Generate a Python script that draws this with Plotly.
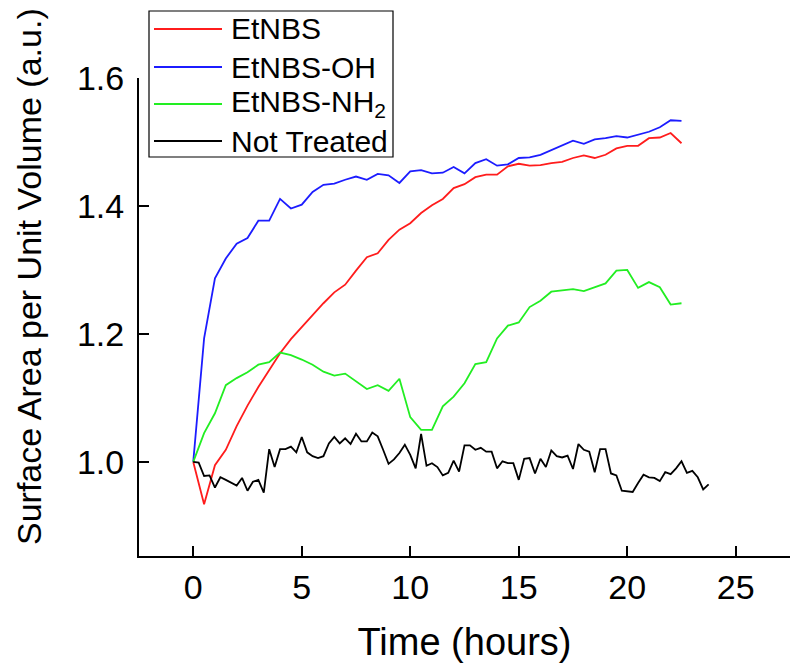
import plotly.graph_objects as go

# ---- data ----
t_treated = [i * 0.5 for i in range(46)]          # 0 .. 22.5 h
t_control = [i * 0.25 for i in range(96)]         # 0 .. 23.75 h

etnbs = [1.000, 0.934, 0.995, 1.019, 1.056, 1.088, 1.117, 1.144, 1.170, 1.192,
         1.211, 1.230, 1.248, 1.265, 1.277, 1.299, 1.320, 1.326, 1.347, 1.363,
         1.373, 1.389, 1.401, 1.411, 1.428, 1.434, 1.445, 1.449, 1.449, 1.462,
         1.466, 1.463, 1.464, 1.467, 1.469, 1.475, 1.479, 1.475, 1.480, 1.490,
         1.494, 1.494, 1.506, 1.507, 1.514, 1.498]

etnbs_oh = [1.000, 1.193, 1.287, 1.318, 1.341, 1.350, 1.377, 1.377, 1.411, 1.396,
            1.402, 1.422, 1.433, 1.435, 1.441, 1.446, 1.441, 1.450, 1.448, 1.436,
            1.454, 1.456, 1.451, 1.452, 1.461, 1.451, 1.467, 1.473, 1.463, 1.465,
            1.475, 1.476, 1.480, 1.487, 1.494, 1.502, 1.497, 1.504, 1.506, 1.509,
            1.507, 1.511, 1.516, 1.523, 1.534, 1.533]

etnbs_nh2 = [1.000, 1.045, 1.076, 1.120, 1.131, 1.140, 1.152, 1.156, 1.171, 1.167,
             1.160, 1.152, 1.141, 1.135, 1.138, 1.126, 1.114, 1.120, 1.111, 1.130,
             1.070, 1.050, 1.050, 1.087, 1.102, 1.123, 1.153, 1.156, 1.193, 1.213,
             1.218, 1.242, 1.252, 1.266, 1.268, 1.270, 1.267, 1.273, 1.279, 1.299,
             1.300, 1.272, 1.281, 1.273, 1.246, 1.248]

not_treated = [1.000, 0.999, 0.978, 0.979, 0.960, 0.976, 0.972, 0.967, 0.963, 0.975,
               0.955, 0.969, 0.972, 0.952, 1.020, 0.992, 1.020, 1.020, 1.024, 1.015,
               1.039, 1.015, 1.009, 1.006, 1.009, 1.029, 1.039, 1.029, 1.037, 1.028,
               1.044, 1.032, 1.032, 1.046, 1.040, 1.019, 0.997, 1.004, 1.014, 1.027,
               1.011, 0.990, 1.044, 0.994, 0.998, 0.992, 0.979, 0.983, 1.002, 0.985,
               1.026, 1.026, 1.019, 1.022, 1.016, 1.016, 0.990, 1.001, 0.998, 0.998,
               0.972, 1.005, 1.006, 0.982, 1.005, 0.992, 1.018, 1.009, 1.007, 1.010,
               0.989, 1.028, 1.019, 1.016, 0.984, 1.020, 1.020, 0.982, 0.979, 0.955,
               0.954, 0.953, 0.967, 0.980, 0.976, 0.975, 0.970, 0.984, 0.981, 0.990,
               1.001, 0.983, 0.986, 0.976, 0.957, 0.965]

series_names = ["EtNBS", "EtNBS-OH", "EtNBS-NH<sub>2</sub>", "Not Treated"]
series_colors = ["#ff1c1c", "#1c1cff", "#22ee22", "#000000"]

x_ticks = [0, 5, 10, 15, 20, 25]
y_ticks = [1.0, 1.2, 1.4, 1.6]

FONT = "Liberation Sans, Arial, sans-serif"

fig = go.Figure()
data = [(t_treated, etnbs), (t_treated, etnbs_oh), (t_treated, etnbs_nh2), (t_control, not_treated)]
for (x, y), name, col in zip(data, series_names, series_colors):
    fig.add_trace(go.Scatter(x=x, y=y, mode="lines", name=name,
                             line=dict(color=col, width=1.8), showlegend=False))

# page body has an 8px default margin; compensate so the plot lands where the reference has it
OFF = 8
L, R, T, B = 139, 790, 78, 556          # target plot box in screen pixels
W, H = R - L, B - T
def px(xp): return (xp - L) / W
def py(yp): return (B - yp) / H

shapes = [dict(type="rect", xref="paper", yref="paper",
               x0=px(149), x1=px(393), y0=py(157), y1=py(11),
               line=dict(color="black", width=1.2), fillcolor="white", layer="above")]
annotations = []
legend_y = [29, 67, 104, 141]
for name, col, yy in zip(series_names, series_colors, legend_y):
    shapes.append(dict(type="line", xref="paper", yref="paper",
                       x0=px(154), x1=px(222), y0=py(yy), y1=py(yy),
                       line=dict(color=col, width=1.8), layer="above"))
    annotations.append(dict(xref="paper", yref="paper", x=px(229), y=py(yy),
                            text=name, showarrow=False, xanchor="left", yanchor="middle",
                            font=dict(family=FONT, size=30, color="black")))

# y-axis title
annotations.append(dict(xref="paper", yref="paper", x=px(29), y=py(277),
                        text="Surface Area per Unit Volume (a.u.)", textangle=-90,
                        showarrow=False, xanchor="center", yanchor="middle",
                        font=dict(family=FONT, size=34, color="black")))

fig.update_layout(
    width=800, height=670,
    margin=dict(l=L - OFF, r=800 - R + OFF, t=T - OFF, b=670 - B + OFF, autoexpand=False),
    paper_bgcolor="white", plot_bgcolor="white",
    font=dict(family=FONT, color="black"),
    shapes=shapes, annotations=annotations,
    xaxis=dict(range=[-2.5, 27.5], tickvals=x_ticks, ticktext=[str(v) for v in x_ticks],
               automargin=False,
               showgrid=False, zeroline=False, showline=True, linecolor="black", linewidth=2,
               ticks="inside", ticklen=10, tickwidth=2, tickcolor="black",
               tickfont=dict(family=FONT, size=34, color="black"),
               title=dict(text="Time (hours)", font=dict(family=FONT, size=38, color="black"),
                          standoff=24)),
    yaxis=dict(range=[0.853, 1.6], tickvals=y_ticks, ticktext=[f"{v:.1f}" for v in y_ticks],
               automargin=False,
               showgrid=False, zeroline=False, showline=True, linecolor="black", linewidth=2,
               ticks="inside", ticklen=10, tickwidth=2, tickcolor="black",
               tickfont=dict(family=FONT, size=34, color="black"), ticklabelstandoff=6),
)

fig.write_html("out.html")
